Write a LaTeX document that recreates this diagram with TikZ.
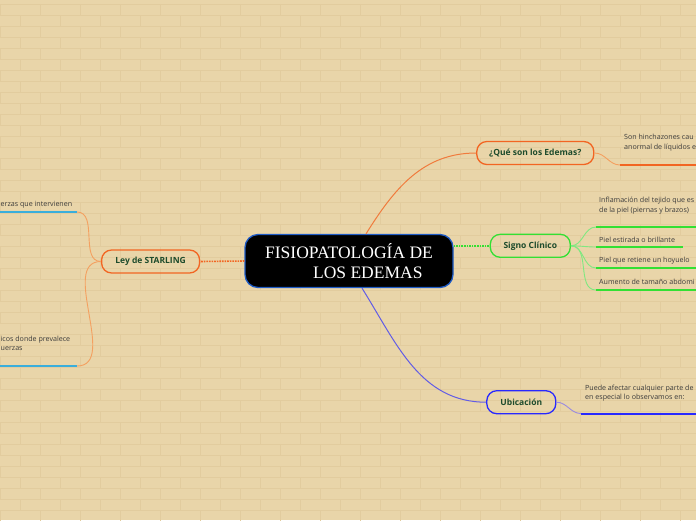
\documentclass[tikz,border=0pt]{standalone}
\usepackage{fontspec}
\setmainfont{Open Sans}
\newfontfamily\titlefont{Liberation Serif}
\definecolor{bg}{HTML}{E9D5A9}
\definecolor{brick}{HTML}{E2CC9E}
\definecolor{orng}{HTML}{F26522}
\definecolor{orngl}{HTML}{F4A060}
\definecolor{grn}{HTML}{33E033}
\definecolor{grnl}{HTML}{80E880}
\definecolor{ubblue}{RGB}{40,40,255}
\definecolor{blul}{HTML}{9A8AE0}
\definecolor{sky}{HTML}{3AAEDB}
\definecolor{ttl}{HTML}{1D4B2C}
\definecolor{txt}{HTML}{3A3A3A}
\definecolor{cblue}{HTML}{1E5BC6}
\tikzset{
  topic/.style={draw, line width=1.3pt, rounded corners=10pt, minimum height=23pt,
    font=\fontsize{8.5}{10}\selectfont\bfseries, text=ttl, inner sep=0pt},
  leaf/.style={font=\fontsize{7.1}{9.5}\selectfont, text=txt, anchor=base west,
    align=left, inner sep=0pt},
  twig/.style={line width=0.9pt},
  uline/.style={line width=1.9pt},
}
\begin{document}
\begin{tikzpicture}[x=1pt,y=-1pt]
\useasboundingbox (0,0) rectangle (696,520);
\clip (0,0) rectangle (696,520);
\fill[bg] (0,0) rectangle (696,520);
% brick pattern
\foreach \r in {0,...,47}{
  \pgfmathsetmacro{\yy}{4+11*\r}
  \draw[brick, line width=0.5pt] (0,\yy) -- (696,\yy);
  \pgfmathsetmacro{\off}{mod(\r,2)*20}
  \foreach \c in {0,...,18}{
    \pgfmathsetmacro{\xx}{\off+40*\c}
    \draw[brick, line width=0.5pt] (\xx,\yy) -- (\xx,\yy+11);
  }
}
% central node
\node[draw=cblue, fill=black, line width=1.3pt, rounded corners=13pt,
      minimum width=208pt, minimum height=53pt, text=white, align=left,
      font=\titlefont\fontsize{17.5}{20}\selectfont, inner sep=0pt]
  (center) at (349,261) {FISIOPATOLOGÍA DE\\\hspace*{48pt}LOS EDEMAS};
% topics
\node[topic, draw=orng, minimum width=117pt] (que) at (535.3,153) {¿Qué son los Edemas?};
\node[topic, draw=grn, minimum width=80pt] (signo) at (530.3,245.8) {Signo Clínico};
\node[topic, draw=ubblue, minimum width=69pt] (ubic) at (521.3,402.2) {Ubicación};
\node[topic, draw=orng, minimum width=98pt] (ley) at (150.6,261.5) {Ley de STARLING};
% central connectors
\coordinate (cq) at ([xshift=17pt]center.north);
\coordinate (cu) at ([xshift=13pt]center.south);
\coordinate (cs) at (center.east |- signo.west);
\draw[orng!80!bg, line width=1pt] (cq) to[out=58,in=180] (que.west);
\draw[grn, line width=1.6pt, densely dotted] (cs) -- (signo.west);
\draw[ubblue!70!bg, line width=1pt] (cu) to[out=-58,in=180] (ubic.west);
\draw[orng, line width=1.6pt, densely dotted] (center.west) -- (ley.east);
% leaves: que
\coordinate (q1) at (620,165);
\coordinate (q1e) at (696,165);
\draw[twig, orngl] (que.east) to[out=0,in=180] (q1);
\draw[uline, orng] (q1) -- (q1e);
\node[leaf] (q1t) at (624,149) {Son hinchazones cau\\anormal de líquidos e};
% leaves: signo
\coordinate (s1) at (596,227); \coordinate (s1e) at (696,227);
\coordinate (s2) at (596,247); \coordinate (s2e) at (683,247);
\coordinate (s3) at (596,268); \coordinate (s3e) at (696,268);
\coordinate (s4) at (596,290); \coordinate (s4e) at (696,290);
\foreach \i in {1,2,3,4}{
  \draw[twig, grnl] (signo.east) to[out=0,in=180] (s\i);
  \draw[uline, grn] (s\i) -- (s\i e);
}
\node[leaf] (s1t) at (599,212) {Inflamación del tejido que es\\de la piel (piernas y brazos)};
\node[leaf] (s2t) at (599,242) {Piel estirada o brillante};
\node[leaf] (s3t) at (599,262.5) {Piel que retiene un hoyuelo};
\node[leaf] (s4t) at (599,284) {Aumento de tamaño abdomi};
% leaves: ubicacion
\coordinate (u1) at (581,413.5); \coordinate (u1e) at (696,413.5);
\draw[twig, blul] (ubic.east) to[out=0,in=180] (u1);
\draw[line width=2pt, draw=ubblue] (u1) -- (u1e);
\node[leaf] (u1t) at (585,399.5) {Puede afectar cualquier parte de\\en especial lo observamos en:};
% leaves: ley
\coordinate (l1) at (77,212); \coordinate (l1e) at (0,212);
\coordinate (l2) at (77,366); \coordinate (l2e) at (0,366);
\draw[twig, orngl] (ley.west) to[out=180,in=0] (l1);
\draw[twig, orngl] (ley.west) to[out=180,in=0] (l2);
\draw[uline, sky] (l1) -- (l1e);
\draw[uline, sky] (l2) -- (l2e);
\node[leaf] (l1t) at (0.5,206.5) {erzas que intervienen};
\node[leaf] (l2t) at (0.5,350.5) {icos donde prevalece\\uerzas};
\end{tikzpicture}
\end{document}
